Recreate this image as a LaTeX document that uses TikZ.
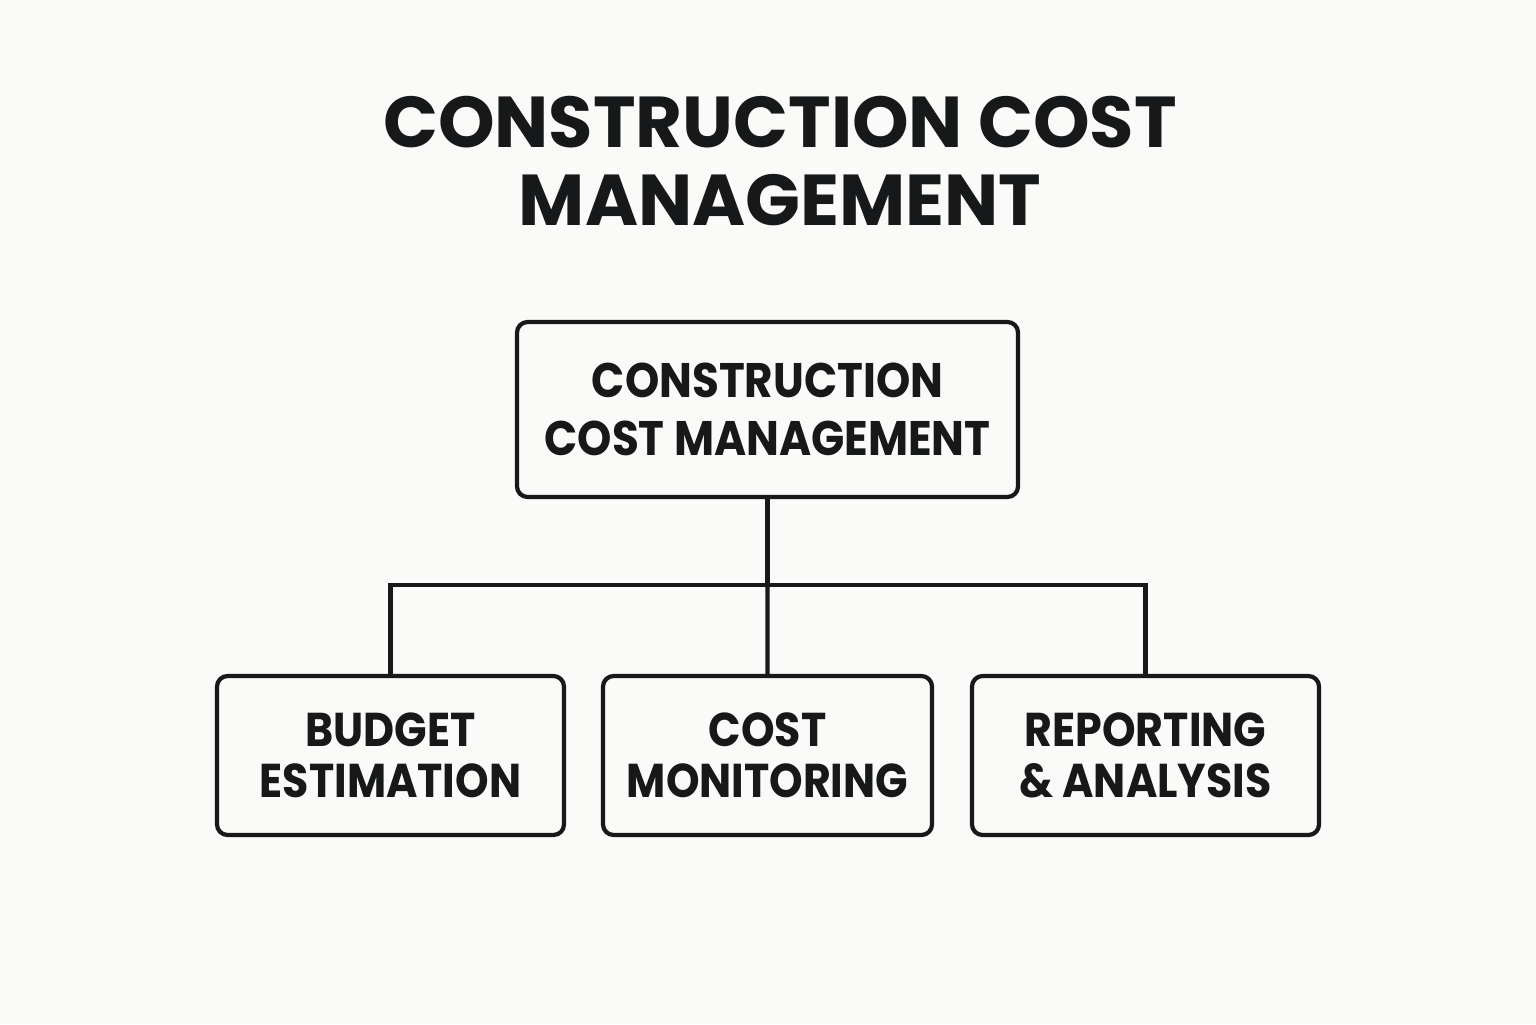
\documentclass[tikz,border=0pt]{standalone}
\usepackage{fontspec}
\setmainfont{Poppins}
\newfontfamily\boxfont{Poppins}[FakeStretch=0.9]
\usetikzlibrary{positioning}
\definecolor{paper}{RGB}{250,250,248}
\definecolor{ink}{RGB}{22,24,26}
\tikzset{
    block/.style={rectangle, rounded corners=3pt, line width=1.2pt, draw=ink, text=ink, align=center, inner sep=0pt},
    link/.style={line width=1.2pt, draw=ink}
}
\begin{document}
\begin{tikzpicture}[x=1cm, y=1cm]
    \fill[paper] (0,0) rectangle (15.36,10.24);
    \useasboundingbox (0,0) rectangle (15.36,10.24);

    \node[text=ink, align=center, font=\fontsize{20.5}{22.2}\selectfont\bfseries] (title) at (7.8,8.63) {CONSTRUCTION COST\\MANAGEMENT};

    \node[block, minimum width=5.01cm, minimum height=1.75cm, font=\boxfont\fontsize{13.8}{16.5}\selectfont\bfseries] (ccm) at (7.675,6.145) {CONSTRUCTION\\COST MANAGEMENT};
    \node[block, minimum width=3.47cm, minimum height=1.59cm, font=\boxfont\fontsize{13.5}{14.5}\selectfont\bfseries] (be) at (3.905,2.685) {BUDGET\\ESTIMATION};
    \node[block, minimum width=3.29cm, minimum height=1.59cm, xshift=3.77cm, font=\boxfont\fontsize{13.5}{14.5}\selectfont\bfseries] (cm) at (be) {COST\\MONITORING};
    \node[block, minimum width=3.47cm, minimum height=1.59cm, xshift=3.78cm, font=\boxfont\fontsize{13.5}{14.5}\selectfont\bfseries] (ra) at (cm) {REPORTING\\\& ANALYSIS};

    \coordinate (hub) at (7.675,4.39);

    \draw[link] (ccm.south) -- (hub);
    \draw[link] (be.north) |- (hub) -| (ra.north);
    \draw[link] (hub) -- (cm.north);
\end{tikzpicture}
\end{document}
